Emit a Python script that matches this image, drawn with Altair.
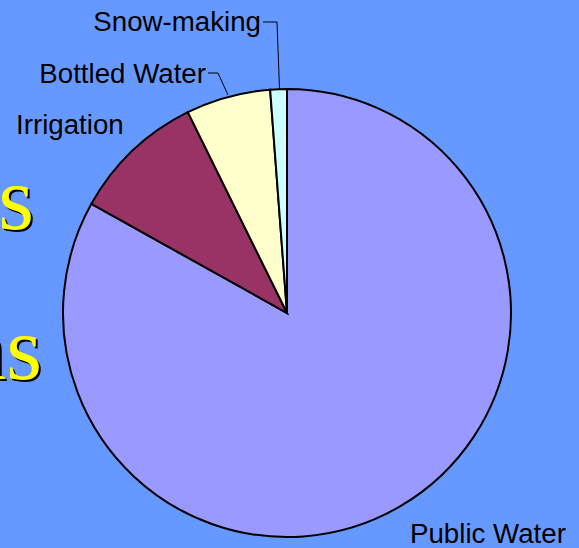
import altair as alt
import pandas as pd

categories = ["Public Water", "Irrigation", "Bottled Water", "Snow-making"]
values = [83.1, 9.6, 6.1, 1.2]
order = [1, 2, 3, 4]
colors = ["#9999FF", "#993366", "#FFFFCC", "#CCFFFF"]

df = pd.DataFrame({"category": categories, "value": values, "ord": order})

W, H = 579, 548
CX, CY, R = 287, 313, 224

pie = alt.Chart(df).mark_arc(radius=R, stroke="black", strokeWidth=2).encode(
    theta=alt.Theta("value:Q", stack=True),
    color=alt.Color("category:N", scale=alt.Scale(domain=categories, range=colors), legend=None),
    order=alt.Order("ord:Q"),
    x=alt.value(CX),
    y=alt.value(CY),
)

def label(txt, x, y, align):
    return alt.Chart(pd.DataFrame({"t": [txt]})).mark_text(
        font="Liberation Sans", fontSize=27.7, color="black", align=align, baseline="alphabetic"
    ).encode(text="t:N", x=alt.value(x), y=alt.value(y))

def rule(x1, y1, x2, y2):
    return alt.Chart(pd.DataFrame({"a": [0]})).mark_rule(color="black", strokeWidth=1).encode(
        x=alt.value(x1), y=alt.value(y1), x2=alt.value(x2), y2=alt.value(y2)
    )

def bigtext(txt, x, y):
    shadow = alt.Chart(pd.DataFrame({"t": [txt]})).mark_text(
        font="Liberation Serif", fontSize=92, color="black", align="right", baseline="alphabetic"
    ).encode(text="t:N", x=alt.value(x + 2), y=alt.value(y + 2))
    front = alt.Chart(pd.DataFrame({"t": [txt]})).mark_text(
        font="Liberation Serif", fontSize=92, color="#FFFF00", align="right", baseline="alphabetic"
    ).encode(text="t:N", x=alt.value(x), y=alt.value(y))
    return shadow + front

chart = alt.layer(
    bigtext("as", 34, 229),
    bigtext("ns", 42, 379),
    pie,
    label("Snow-making", 261, 31, "right"),
    label("Bottled Water", 206, 83, "right"),
    label("Irrigation", 16, 134, "left"),
    label("Public Water", 410, 543, "left"),
    rule(263, 22, 277, 22),
    rule(277, 22, 279.5, 89),
    rule(208, 73, 218, 73),
    rule(218, 73, 228, 95),
).properties(
    width=W, height=H, autosize=alt.AutoSizeParams(type="none"), padding=0, background="#6699FF"
).configure_view(stroke=None)

chart.save("out.html", embed_options={"renderer": "svg", "actions": False})
